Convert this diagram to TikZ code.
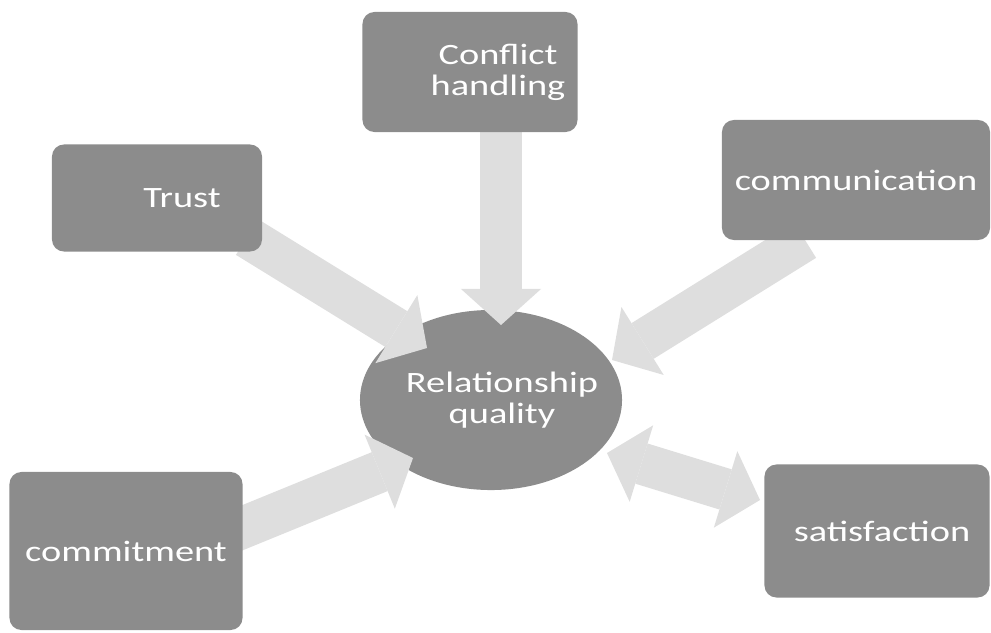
\documentclass[tikz,border=0pt]{standalone}
\usepackage{fontspec}
\setmainfont{Carlito}[FakeStretch=1.3]
\usetikzlibrary{arrows.meta,calc,shapes.geometric}
\pgfdeclarelayer{back}
\pgfdeclarelayer{front}
\pgfsetlayers{back,main,front}
\definecolor{boxgray}{RGB}{140,140,140}
\definecolor{arrowgray}{RGB}{222,222,222}
\tikzset{
	box/.style={fill=boxgray, rounded corners=0.3cm, inner sep=0pt},
	lbl/.style={text=white, align=center, font=\fontsize{21}{22}\selectfont},
	flow/.style={draw=arrowgray, line width=1.05cm, -{Triangle[width=2cm,length=0.9cm,line width=0pt]}},
	both/.style={flow, {Triangle[width=2cm,length=0.9cm,line width=0pt]}-{Triangle[width=2cm,length=0.9cm,line width=0pt]}}
}
\begin{document}
\begin{tikzpicture}[x=0.025cm, y=-0.025cm]
		\useasboundingbox (0,0) rectangle (991,632);

		\begin{pgfonlayer}{front}
		\node[box, minimum width=5.375cm, minimum height=3cm] (conflict) at (470,72) {};
		\node[box, minimum width=5.25cm, minimum height=2.675cm] (trust) at (157,198) {};
		\node[box, minimum width=6.7cm, minimum height=3cm] (comm) at (856,180) {};
		\node[box, minimum width=5.825cm, minimum height=3.95cm] (commit) at (126,551) {};
		\node[box, minimum width=5.625cm, minimum height=3.325cm] (satisf) at (877,531) {};

		\node[lbl] (conflict-t) at ([xshift=0.7cm]conflict.center) {Conflict\\handling};
		\node[lbl] (trust-t) at ([xshift=0.625cm]trust.center) {Trust};
		\node[lbl] (comm-t) at (comm.center) {communication};
		\node[lbl] (commit-t) at (commit.center) {commitment};
		\node[lbl] (satisf-t) at ([xshift=0.125cm]satisf.center) {satisfaction};
		\end{pgfonlayer}

		\begin{pgfonlayer}{back}
		\node[ellipse, fill=boxgray, inner sep=0pt, minimum width=6.55cm, minimum height=4.5cm] (rq) at (491,400) {};
		\end{pgfonlayer}
		\begin{pgfonlayer}{front}
		\node[lbl] (rq-t) at ([xshift=0.275cm]rq.center) {Relationship\\quality};
		\end{pgfonlayer}

		\draw[flow] ($(trust)+(90,39)$) -- ($(rq)+(-64,-52)$);
		\draw[flow] ($(conflict)+(31,38)$) -- ($(rq)+(10,-75)$);
		\draw[flow] ($(comm)+(-51,60)$) -- ($(rq)+(121,-40)$);
		\draw[flow] ($(commit)+(106,-19)$) -- ($(rq)+(-78,58)$);
		\draw[both] ($(rq)+(116,53)$) -- ($(satisf)+(-117,-31)$);
\end{tikzpicture}
\end{document}
